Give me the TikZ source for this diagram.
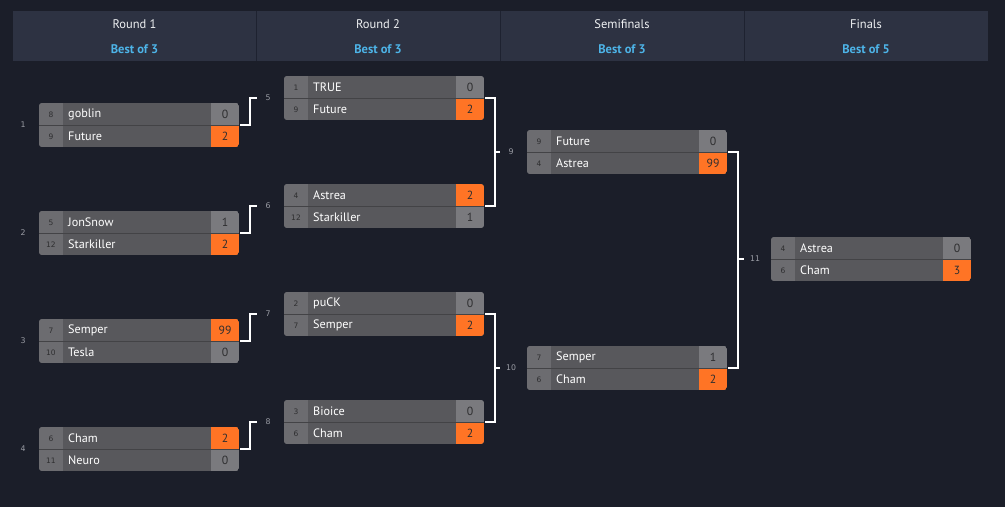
\documentclass[tikz,border=0pt]{standalone}
\usepackage{fontspec}
\setmainfont{PT Sans}
\newfontfamily\seedfont{DejaVu Sans}
\usetikzlibrary{calc}
\definecolor{bgcol}{HTML}{1B1E29}
\definecolor{headcol}{HTML}{2D3242}
\definecolor{divcol}{HTML}{1E2230}
\definecolor{titlecol}{HTML}{EEF0F2}
\definecolor{bestcol}{HTML}{4DB4E8}
\definecolor{seedcol}{HTML}{6C6C70}
\definecolor{namecol}{HTML}{58585C}
\definecolor{scoregray}{HTML}{7A7A7E}
\definecolor{wincol}{HTML}{FF7425}
\definecolor{sepcol}{HTML}{434346}
\definecolor{darktxt}{HTML}{2E2E30}
\definecolor{labelcol}{HTML}{9A9CA4}
\tikzset{
  matchnode/.style={minimum width=200pt,minimum height=44pt,inner sep=0pt,outer sep=0pt},
  seedtxt/.style={font=\seedfont\fontsize{7.5}{9}\selectfont,text=darktxt,inner sep=0pt},
  nametxt/.style={font=\fontsize{12.2}{14}\selectfont,text=white,inner sep=0pt,anchor=west},
  scoretxt/.style={font=\fontsize{11.8}{14}\selectfont,text=darktxt,inner sep=0pt},
  mlabel/.style={font=\seedfont\fontsize{7.8}{9}\selectfont,text=labelcol,inner sep=0pt},
  conn/.style={draw=white,line width=2pt},
  titletxt/.style={font=\fontsize{12.5}{14}\selectfont,text=titlecol,inner sep=0pt},
  besttxt/.style={font=\bfseries\fontsize{12.5}{14}\selectfont,text=bestcol,inner sep=0pt},
}
% #1 name, #2 coord, #3 s1, #4 n1, #5 sc1, #6 s2, #7 n2, #8 sc2, #9 winner
\newcommand\matchbox[9]{%
  \ifnum#9=1\colorlet{sctop}{wincol}\colorlet{scbot}{scoregray}%
  \else\colorlet{sctop}{scoregray}\colorlet{scbot}{wincol}\fi
  \begin{scope}[shift={#2}]
    \node[matchnode] (#1) at (100,22) {};
    \begin{scope}
      \clip[rounded corners=3pt] (0,0) rectangle (200,44);
      \fill[namecol] (0,0) rectangle (200,44);
      \fill[seedcol] (0,0) rectangle (24,44);
      \fill[sctop] (172,0) rectangle (200,22);
      \fill[scbot] (172,22) rectangle (200,44);
      \draw[sepcol,line width=1pt] (0,22) -- (200,22);
    \end{scope}
    \node[seedtxt] at (12,11.5) {#3};
    \node[nametxt] at (29,11) {#4};
    \node[scoretxt] at (186,11.5) {#5};
    \node[seedtxt] at (12,33.5) {#6};
    \node[nametxt] at (29,33) {#7};
    \node[scoretxt] at (186,33.5) {#8};
  \end{scope}}
\begin{document}
\begin{tikzpicture}[x=1pt,y=-1pt]
\fill[bgcol] (0,0) rectangle (1005,507);
\useasboundingbox (0,0) rectangle (1005,507);
% header
\fill[headcol] (13,11) rectangle (988,61);
\foreach \xx in {256,500,744} \draw[divcol,line width=1pt] (\xx,11) -- (\xx,61);
\node[titletxt] (h1) at (134.5,24) {Round 1};
\node[besttxt] (b1) at (134.5,49) {Best of 3};
\node[titletxt] (h2) at (378,24) {Round 2};
\node[besttxt] (b2) at (378,49) {Best of 3};
\node[titletxt] (h3) at (622,24) {Semifinals};
\node[besttxt] (b3) at (622,49) {Best of 3};
\node[titletxt] (h4) at (866,24) {Finals};
\node[besttxt] (b4) at (866,49) {Best of 5};
% round 1
\matchbox{m1}{(39,103)}{8}{goblin}{0}{9}{Future}{2}{2}
\matchbox{m2}{(39,211)}{5}{JonSnow}{1}{12}{Starkiller}{2}{2}
\matchbox{m3}{(39,319)}{7}{Semper}{99}{10}{Tesla}{0}{1}
\matchbox{m4}{(39,427)}{6}{Cham}{2}{11}{Neuro}{0}{1}
% round 2
\matchbox{m5}{(284,76)}{1}{TRUE}{0}{9}{Future}{2}{2}
\matchbox{m6}{(284,184)}{4}{Astrea}{2}{12}{Starkiller}{1}{1}
\matchbox{m7}{(284,292)}{2}{puCK}{0}{7}{Semper}{2}{2}
\matchbox{m8}{(284,400)}{3}{Bioice}{0}{6}{Cham}{2}{2}
% semifinals
\matchbox{m9}{(527,130)}{9}{Future}{0}{4}{Astrea}{99}{2}
\matchbox{m10}{(527,346)}{7}{Semper}{1}{6}{Cham}{2}{2}
% finals
\matchbox{m11}{(771,237)}{4}{Astrea}{0}{6}{Cham}{3}{2}
% match labels
\foreach \m/\t in {m1/1,m2/2,m3/3,m4/4,m5/5,m6/6,m7/7,m8/8,m9/9,m10/10,m11/11}
  \node[mlabel] (l\m) at ([xshift=-16pt]\m.west) {\t};
% connectors
\foreach \a/\b in {m1/m5,m2/m6,m3/m7,m4/m8,m5/m9,m6/m9,m7/m10,m8/m10,m9/m11,m10/m11}
  \draw[conn] ([xshift=1pt]\a.east) -- ++(10,0) |- ([xshift=-27pt]\b.west);
\end{tikzpicture}
\end{document}
